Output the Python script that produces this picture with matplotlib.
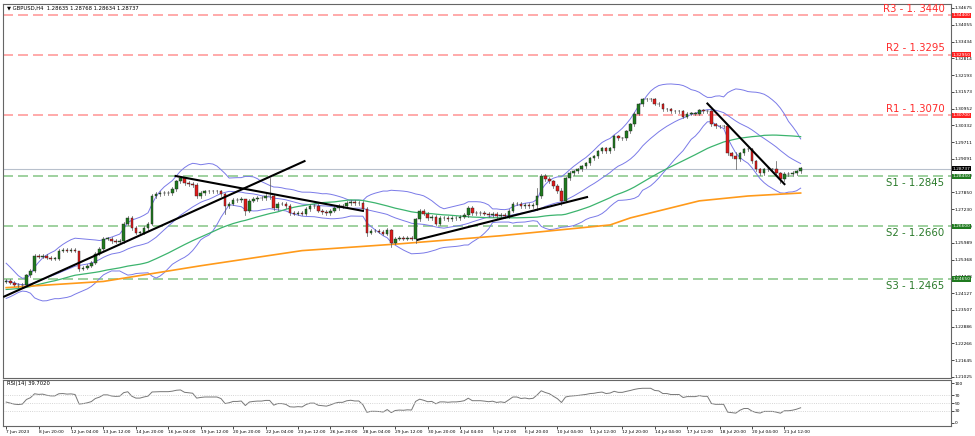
import numpy as np
import pandas as pd
import matplotlib.pyplot as plt
import matplotlib.transforms as mtransforms

# 4h closes, 7 Jun 2023 -> 21 Jul 2023
closes = [1.2459, 1.2452, 1.2444, 1.2441, 1.2444, 1.2478, 1.2496, 1.2551, 1.2547, 1.2551,
          1.2544, 1.2540, 1.2540, 1.2570, 1.2573, 1.2570, 1.2573, 1.2570, 1.2503, 1.2507,
          1.2514, 1.2525, 1.2559, 1.2577, 1.2614, 1.2614, 1.2606, 1.2603, 1.2606, 1.2669,
          1.2691, 1.2654, 1.2636, 1.2636, 1.2654, 1.2669, 1.2772, 1.2779, 1.2783, 1.2783,
          1.2783, 1.2798, 1.2827, 1.2838, 1.2820, 1.2816, 1.2813, 1.2772, 1.2783, 1.2790,
          1.2790, 1.2790, 1.2790, 1.2779, 1.2735, 1.2743, 1.2757, 1.2757, 1.2761, 1.2717,
          1.2754, 1.2761, 1.2765, 1.2765, 1.2772, 1.2772, 1.2728, 1.2743, 1.2743, 1.2735,
          1.2709, 1.2706, 1.2709, 1.2706, 1.2724, 1.2735, 1.2735, 1.2717, 1.2713, 1.2709,
          1.2717, 1.2728, 1.2735, 1.2735, 1.2746, 1.2750, 1.2746, 1.2746, 1.2724, 1.2636,
          1.2643, 1.2643, 1.2640, 1.2632, 1.2647, 1.2599, 1.2614, 1.2617, 1.2614, 1.2617,
          1.2614, 1.2687, 1.2717, 1.2706, 1.2691, 1.2695, 1.2669, 1.2691, 1.2691, 1.2687,
          1.2691, 1.2691, 1.2695, 1.2702, 1.2728, 1.2709, 1.2709, 1.2709, 1.2706, 1.2702,
          1.2706, 1.2698, 1.2702, 1.2698, 1.2717, 1.2743, 1.2743, 1.2735, 1.2739, 1.2735,
          1.2739, 1.2772, 1.2846, 1.2835, 1.2827, 1.2809, 1.2790, 1.2754, 1.2838, 1.2857,
          1.2864, 1.2871, 1.2882, 1.2893, 1.2912, 1.2919, 1.2938, 1.2949, 1.2938, 1.2949,
          1.2993, 1.2985, 1.2985, 1.3011, 1.3037, 1.3077, 1.3111, 1.3129, 1.3129, 1.3129,
          1.3114, 1.3111, 1.3092, 1.3092, 1.3085, 1.3085, 1.3085, 1.3066, 1.3077, 1.3077,
          1.3077, 1.3089, 1.3085, 1.3085, 1.3037, 1.3030, 1.3030, 1.3030, 1.2930, 1.2919,
          1.2908, 1.2930, 1.2945, 1.2945, 1.2901, 1.2871, 1.2857, 1.2871, 1.2871, 1.2871,
          1.2857, 1.2835, 1.2853, 1.2853, 1.2857, 1.2864, 1.2874]

# closes before the visible window (used to warm up the indicators)
warmup = [1.2420, 1.2405, 1.2390, 1.2372, 1.2360, 1.2348, 1.2355, 1.2340, 1.2352, 1.2368,
          1.2360, 1.2375, 1.2390, 1.2382, 1.2366, 1.2350, 1.2362, 1.2380, 1.2398, 1.2410,
          1.2405, 1.2420, 1.2436, 1.2452, 1.2445, 1.2460, 1.2478, 1.2470, 1.2490, 1.2510,
          1.2522, 1.2535, 1.2528, 1.2515, 1.2490, 1.2470, 1.2455, 1.2440, 1.2430, 1.2438,
          1.2425, 1.2418, 1.2432, 1.2445, 1.2440, 1.2452, 1.2448, 1.2440, 1.2450, 1.2455]

# notable wicks: index -> (high, low)
wicks = {18: (1.2560, 1.2495), 54: (1.2782, 1.2705), 59: (1.2760, 1.2700), 65: (1.2838, 1.2760),
         89: (1.2730, 1.2625), 95: (1.2650, 1.2585), 101: (1.2690, 1.2600), 137: (1.2800, 1.2740),
         180: (1.2935, 1.2871), 190: (1.2901, 1.2850), 191: (1.2860, 1.2820), 131: (1.2800, 1.2720)}

sma200_idx = [0, 24, 48, 73, 97, 122, 149, 154, 171, 183, 196]
sma200_val = [1.2433, 1.2456, 1.2514, 1.2570, 1.2595, 1.2625, 1.2665, 1.2691, 1.2754, 1.2772, 1.2783]

trend_lines = [((-0.5, 1.2400), (73.6, 1.2901)),
               ((41.8, 1.2846), (88.0, 1.2717)),
               ((101.5, 1.2610), (143.3, 1.2768)),
               ((173.0, 1.3114), (192.0, 1.2816))]

res_names = ['R3 - 1. 3440', 'R2 - 1.3295', 'R1 - 1.3070']
res_levels = [1.3440, 1.3295, 1.3070]
sup_names = ['S1 - 1.2845', 'S2 - 1.2660', 'S3 - 1.2465']
sup_levels = [1.2845, 1.2660, 1.2465]
last_price = 1.28737

date_labels = ['7 Jun 2023', '8 Jun 20:00', '12 Jun 04:00', '13 Jun 12:00', '14 Jun 20:00',
               '16 Jun 04:00', '19 Jun 12:00', '20 Jun 20:00', '22 Jun 04:00', '23 Jun 12:00',
               '26 Jun 20:00', '28 Jun 04:00', '29 Jun 12:00', '30 Jun 20:00', '4 Jul 04:00',
               '5 Jul 12:00', '6 Jul 20:00', '10 Jul 04:00', '11 Jul 12:00', '12 Jul 20:00',
               '14 Jul 04:00', '17 Jul 12:00', '18 Jul 20:00', '20 Jul 04:00', '21 Jul 12:00']

n = len(closes)
allc = pd.Series(warmup + closes)
w = len(warmup)
mid = allc.rolling(20).mean().values[w:]
sd = allc.rolling(20).std(ddof=0).values[w:]
sma50 = allc.rolling(50).mean().values[w:]
d = allc.diff()
up = d.clip(lower=0).ewm(alpha=1 / 14, adjust=False).mean()
dn = (-d.clip(upper=0)).ewm(alpha=1 / 14, adjust=False).mean()
rsi = (100 - 100 / (1 + up / dn)).values[w:]

opens = [warmup[-1]] + closes[:-1]
x = np.arange(n)
FS = 3.2

fig = plt.figure(figsize=(9.75, 4.36), dpi=100)
ax = fig.add_axes([0.003, 1 - 378 / 436, 0.972, 374 / 436])
ax2 = fig.add_axes([0.003, 1 - 426 / 436, 0.972, 46 / 436], sharex=ax)

for lv in res_levels:
    ax.axhline(lv, color='#ff9c9c', lw=1.2, ls=(0, (6, 3)))
for lv in sup_levels:
    ax.axhline(lv, color='#8fc98f', lw=1.2, ls=(0, (6, 3)))
ax.axhline(last_price, color='#b8c0cc', lw=0.8)

ax.plot(x, mid + 2 * sd, color='#7a7ae8', lw=0.7)
ax.plot(x, mid - 2 * sd, color='#7a7ae8', lw=0.7)
ax.plot(x, mid, color='#7a7ae8', lw=0.7)
ax.plot(x, sma50, color='#3cb46e', lw=0.9)
ax.plot(sma200_idx, sma200_val, color='#ff9a1a', lw=1.2)

for i in range(n):
    o, c = opens[i], closes[i]
    hi, lo = wicks.get(i, (max(o, c) + 0.0006, min(o, c) - 0.0006))
    ax.plot([i, i], [lo, hi], color='#555555', lw=0.5, zorder=3)
    col = '#1f7a1f' if c >= o else '#e01b1b'
    h = max(abs(c - o), 0.00012)
    ax.add_patch(plt.Rectangle((i - 0.32, min(o, c)), 0.64, h, fc=col, ec='#222222', lw=0.3, zorder=4))

for (x0, y0), (x1, y1) in trend_lines:
    ax.plot([x0, x1], [y0, y1], color='black', lw=1.5, zorder=5)

for name, lv in zip(res_names, res_levels):
    ax.text(231.5, lv + 0.0005, name, color='#ff2a2a', fontsize=7.3, ha='right', va='bottom')
for name, lv in zip(sup_names, sup_levels):
    ax.text(231.5, lv - 0.0008, name, color='#2a7a2a', fontsize=7.3, ha='right', va='top')

ax.set_xlim(-0.8, 233)
ax.set_ylim(1.20988, 1.34822)
yt = np.linspace(1.21025, 1.34675, 23)
ax.yaxis.tick_right()
ax.set_yticks(yt)
ax.set_yticklabels(['%.5f' % v for v in yt], fontsize=FS)
ax.tick_params(axis='y', length=2, width=0.5, pad=1)
ax.tick_params(axis='x', bottom=False, labelbottom=False)

tr = mtransforms.blended_transform_factory(ax.transAxes, ax.transData)
for lv in res_levels:
    ax.text(1.002, lv, '%.5f' % lv, transform=tr, fontsize=FS, color='white', va='center',
            bbox=dict(fc='#ff2020', ec='none', pad=0.5), clip_on=False)
for lv in sup_levels:
    ax.text(1.002, lv, '%.5f' % lv, transform=tr, fontsize=FS, color='white', va='center',
            bbox=dict(fc='#1f7a1f', ec='none', pad=0.5), clip_on=False)
ax.text(1.002, last_price, '%.5f' % last_price, transform=tr, fontsize=FS, color='white',
        va='center', bbox=dict(fc='black', ec='none', pad=0.5), clip_on=False)

ax.text(0.004, 0.995, '\u25BC GBPUSD,H4  1.28635 1.28768 1.28634 1.28737', transform=ax.transAxes,
        fontsize=3.8, va='top', ha='left')

ax2.plot(x, rsi, color='#777777', lw=0.7)
for lv in [70, 50, 30]:
    ax2.axhline(lv, color='#c8c8c8', lw=0.6, ls=':')
ax2.set_ylim(-8, 108)
ax2.yaxis.tick_right()
ax2.set_yticks([0, 30, 50, 70, 100])
ax2.set_yticklabels(['0', '30', '50', '70', '100'], fontsize=FS)
ax2.tick_params(axis='y', length=2, width=0.5, pad=1)
ax2.text(0.004, 0.97, 'RSI(14) 39.7020', transform=ax2.transAxes, fontsize=3.8, va='top')
ax2.set_xticks(np.arange(len(date_labels)) * 8)
ax2.set_xticklabels(date_labels, fontsize=FS, ha='left')
ax2.tick_params(axis='x', length=2, width=0.5, pad=1)

for a in (ax, ax2):
    for s in a.spines.values():
        s.set_color('#666666')
        s.set_linewidth(0.8)

fig.savefig('out.png', dpi=100)
